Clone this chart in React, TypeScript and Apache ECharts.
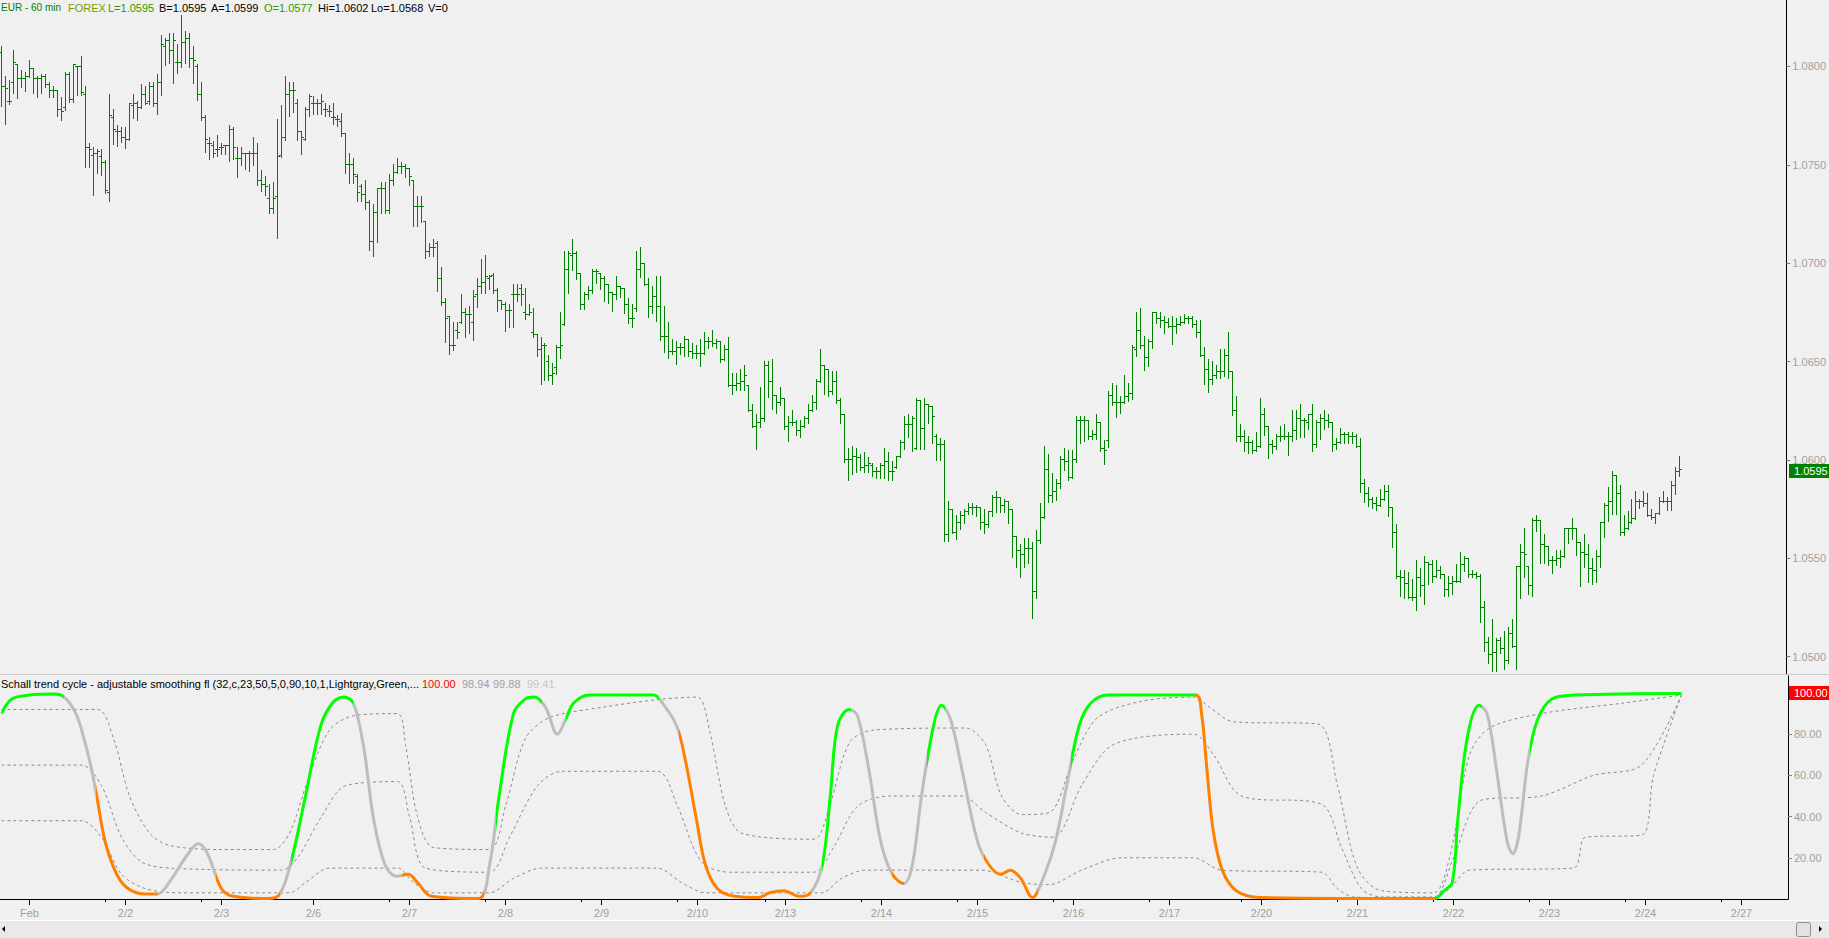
import React, { useEffect, useRef } from "react";
import * as echarts from "echarts";

// EUR 60 min bars, values in pips above 1.0000 (price = 1 + pips / 10000)
const OPEN_PIPS = [
  807,790,782,792,801,794,794,795,799,794, 794,795,791,788,788,778,779,796,783,800,
  800,786,759,755,756,754,751,736,774,767, 767,764,763,780,781,779,786,782,790,781,
  792,810,813,808,802,802,812,814,804,800, 786,774,761,760,758,759,760,760,768,753,
  753,756,756,756,756,742,740,733,728,734, 755,764,786,788,781,767,763,778,781,781,
  781,778,777,774,773,772,766,750,750,744, 739,735,731,711,726,738,738,727,742,746,
  749,749,748,742,729,729,721,706,708,710, 692,680,673,658,666,670,675,674,670,684,
  688,690,692,694,686,681,679,676,684,684, 687,675,674,665,664,656,658,650,643,647,
  657,669,697,704,705,695,679,684,686,696, 695,692,689,685,684,688,687,679,672,677,
  697,700,689,678,683,678,663,663,655,655, 657,657,661,655,654,654,654,660,660,659,
  660,651,656,638,638,639,640,638,625,617, 619,621,648,640,633,629,631,617,619,619,
  615,617,621,625,629,640,648,646,635,640, 630,623,600,600,602,601,596,597,597,594,
  594,597,599,594,596,602,609,618,618,606, 630,616,628,627,612,608,608,562,575,563,
  568,572,574,576,576,576,568,567,574,581, 581,577,579,575,561,554,552,555,555,533,
  559,571,595,582,584,588,600,599,591,600, 620,620,620,612,613,619,606,610,633,629,
  629,629,632,634,656,666,658,652,660,675, 672,671,670,668,668,669,670,672,672,669,
  665,653,646,641,643,645,645,653,645,625, 612,612,609,609,605,607,623,617,608,607,
  612,612,612,612,615,621,620,619,623,608, 619,621,620,619,608,609,613,613,612,612,
  607,588,583,580,578,577,580,584,576,563, 541,540,537,530,530,540,536,548,547,541,
  544,542,534,537,538,538,547,550,542,542, 541,525,507,501,502,508,504,498,512,505,
  546,553,546,536,569,569,557,556,549,549, 550,551,565,565,565,558,553,552,545,544,
  551,568,577,579,592,583,563,565,568,570, 579,579,578,572,571,573,579,579,579,587,
  594,
];
const HIGH_PIPS = [
  810,795,793,808,801,798,797,803,799,795, 796,796,792,790,788,784,797,797,801,800,
  805,790,761,759,758,758,752,786,778,770, 769,769,781,786,782,791,790,792,792,796,
  816,814,817,817,811,826,818,817,810,801, 792,775,764,762,765,761,760,770,769,759,
  759,756,757,764,761,747,744,740,741,773, 780,795,792,792,783,767,779,786,785,783,
  786,781,780,781,775,776,766,756,753,745, 740,742,732,730,738,741,741,745,750,753,
  751,750,748,742,734,734,721,710,712,711, 698,682,673,670,670,684,677,678,686,692,
  702,704,694,695,687,681,680,679,689,689, 689,687,679,677,664,662,659,653,649,658,
  675,706,706,712,706,695,685,688,697,697, 695,693,689,685,693,688,687,682,679,706,
  708,700,692,688,693,693,678,670,661,660, 659,663,661,659,658,661,665,662,666,661,
  660,658,662,644,644,646,648,638,628,623, 637,650,650,651,633,637,631,622,625,620,
  620,622,628,633,641,656,648,646,645,645, 631,623,606,607,606,603,604,601,598,596,
  598,606,604,599,602,610,622,623,622,631, 630,631,628,627,613,611,610,579,575,572,
  574,575,578,578,577,576,575,574,582,584, 581,580,579,575,561,557,560,560,558,564,
  578,607,603,593,590,602,606,605,605,622, 622,622,620,615,623,619,610,635,639,638,
  632,643,639,658,675,677,663,661,675,675, 675,673,672,673,672,673,674,673,673,671,
  671,657,651,650,648,656,656,665,645,632, 618,615,612,610,614,631,626,617,610,613,
  617,618,614,625,625,628,621,623,628,620, 623,625,623,619,611,616,614,614,614,613,
  611,590,586,581,581,585,587,587,576,567, 544,544,543,539,549,545,551,548,549,549,
  546,542,541,541,547,553,551,550,544,543, 542,528,510,519,509,510,513,515,519,546,
  557,565,546,570,572,569,562,556,551,554, 554,565,565,570,565,558,562,557,550,554,
  568,578,586,594,592,587,572,574,580,584, 580,584,583,575,573,581,584,581,589,596,
  602,
];
const LOW_PIPS = [
  780,771,781,787,784,790,788,795,787,785, 787,790,785,785,775,773,778,782,782,786,
  786,749,749,735,746,745,736,732,761,760, 762,759,763,774,773,779,781,781,780,776,
  786,801,802,792,797,800,802,800,792,783, 773,757,753,754,755,756,756,752,753,744,
  750,748,747,750,740,737,735,726,726,713, 754,763,775,777,763,756,763,775,776,776,
  776,775,775,771,770,765,746,741,741,732, 732,728,707,704,711,726,726,726,740,746,
  746,744,740,719,719,721,703,704,704,686, 679,660,654,656,662,670,663,665,661,678,
  685,685,687,685,676,677,666,668,668,681, 679,672,674,663,653,639,641,641,639,644,
  652,669,685,697,692,677,677,682,685,690, 687,681,680,676,682,683,675,670,668,676,
  693,689,673,675,671,661,655,652,654,649, 654,653,653,652,652,648,654,657,658,657,
  650,651,638,634,636,636,636,625,617,606, 617,620,632,626,624,628,616,610,618,613,
  612,617,619,625,626,640,634,633,634,629, 619,599,590,593,594,595,594,594,592,591,
  591,591,590,590,596,602,606,612,605,606, 606,606,619,609,600,600,559,559,563,560,
  565,568,573,573,572,565,563,566,572,574, 574,574,568,551,546,541,546,548,520,530,
  558,571,579,579,580,586,595,590,591,599, 609,610,611,611,611,605,598,607,628,622,
  624,629,630,631,653,657,646,648,657,670, 668,665,668,659,665,669,670,670,668,663,
  653,639,635,639,642,642,643,642,623,610, 610,605,604,604,605,607,613,601,604,606,
  610,611,603,610,611,612,612,616,605,607, 611,616,617,605,606,609,609,609,609,607,
  584,579,577,576,575,577,580,572,556,540, 531,530,530,529,524,531,527,537,538,541,
  540,531,531,532,538,538,544,541,541,540, 518,503,497,493,493,502,494,497,505,494,
  530,541,532,531,564,548,548,547,543,547, 546,551,558,560,552,536,546,538,537,538,
  546,561,569,573,573,562,562,565,568,570, 576,577,572,570,568,573,579,575,575,583,
  592,
];
const CLOSE_PIPS = [
  790,789,782,802,794,794,795,799,794,794, 795,791,788,788,778,777,796,783,801,800,
  787,759,758,756,757,751,737,775,768,767, 764,763,781,781,779,786,781,790,781,792,
  811,813,808,813,802,812,814,804,803,786, 774,763,761,756,758,759,760,768,759,753,
  756,756,756,756,742,740,739,728,733,754, 764,786,788,788,767,764,778,785,781,781,
  782,778,777,774,773,766,750,750,745,736, 735,731,711,726,738,738,727,742,746,749,
  749,748,744,729,729,729,706,708,708,692, 680,672,658,658,665,675,674,674,683,688,
  690,693,693,686,681,679,676,676,684,684, 684,674,675,664,656,658,658,643,644,657,
  658,697,705,705,695,679,684,686,696,696, 692,689,685,684,688,687,679,672,672,697,
  700,689,678,683,678,663,663,655,655,657, 657,661,655,654,654,654,660,660,659,660,
  651,656,638,638,639,640,643,625,617,619, 621,648,640,633,629,631,617,619,619,615,
  617,621,625,629,640,648,646,635,640,630, 623,600,600,602,601,596,597,598,594,594,
  597,599,594,594,602,609,618,618,621,630, 616,628,627,622,608,608,562,575,563,568,
  572,574,576,576,576,568,567,574,581,581, 577,579,575,561,554,552,555,555,533,559,
  571,595,582,584,588,600,599,591,600,620, 620,620,612,613,619,606,605,633,629,629,
  629,632,634,657,666,658,652,660,675,672, 671,670,668,668,669,670,672,672,669,665,
  653,646,641,643,645,645,653,645,625,612, 612,609,609,605,607,623,617,608,607,612,
  612,612,612,615,621,620,620,623,608,619, 621,620,619,608,609,613,613,612,612,607,
  588,583,580,578,577,580,584,576,563,541, 540,537,530,530,540,536,548,547,541,544,
  542,534,537,538,538,547,550,542,542,541, 525,507,501,502,508,504,498,512,505,546,
  553,552,536,569,569,557,556,549,549,550, 551,565,565,565,558,553,552,545,544,551,
  568,577,579,592,583,563,565,568,570,579, 579,578,572,571,573,579,579,579,587,594,
  595,
];

// x axis: bar index of each day label and of each session-start tick
const DAY_BARS = [7, 31, 55, 78, 102, 126, 150, 174, 196, 220, 244, 268, 292, 315, 339, 363, 387, 411, 435];
const DAY_LABELS = ["Feb", "2/2", "2/3", "2/6", "2/7", "2/8", "2/9", "2/10", "2/13", "2/14", "2/15", "2/16", "2/17", "2/20", "2/21", "2/22", "2/23", "2/24", "2/27"];
const SESSION_BARS = [26, 50, 97, 121, 145, 169, 191, 215, 239, 263, 287, 310, 334, 358, 382, 406, 430];
const PRICE_TICKS = [1.05, 1.055, 1.06, 1.065, 1.07, 1.075, 1.08];
const STC_TICKS = [20, 40, 60, 80];

// Schaff trend cycle: [bar, value]
const STC_POINTS = [
  [0, 90], [2.5, 97], [7, 99], [13, 99.5], [15.7, 98], [18.6, 90], [20.6, 78], [22.4, 64], [23.8, 50],
  [25.9, 28], [28.8, 12], [31.7, 5], [36, 2.4], [39, 2.4], [41.9, 8], [46.3, 21], [49.2, 27], [51.5, 22],
  [55, 5], [58, 1.3], [66.7, 0.2], [69.6, 2.4], [72.5, 19], [76, 50], [79.8, 84], [82.7, 95], [85.6, 98],
  [88, 95], [90.6, 73], [93, 39], [95.9, 16.5], [98.8, 11], [101.7, 12], [104, 8], [107.5, 1.3], [119.2, 0.2],
  [122, 16.5], [124.4, 50], [128, 90], [130.9, 97], [133.2, 98], [136, 93], [139, 80], [141, 87], [143, 95],
  [146.9, 99], [163, 99], [165.3, 95], [168.8, 84], [171, 67], [173.7, 39], [176, 16.5], [179, 5], [183.3, 1.3],
  [189.2, 0.7], [192, 3], [195.6, 4], [199.4, 1.3], [202.3, 3], [205.2, 16.5], [207.2, 50], [209, 84],
  [211.9, 92], [214, 89], [216.9, 62], [219.8, 28], [222.7, 12], [225.6, 7.5], [227.7, 16.5], [230, 50],
  [233, 84], [235, 94], [237.3, 87], [240.2, 62], [244, 28], [246.9, 16.5], [249.8, 12], [252.2, 14],
  [254.8, 10], [257.7, 0.7], [260.6, 11], [263.5, 28], [266.4, 56], [269.4, 84], [272.3, 95], [276.6, 99],
  [298.5, 99], [300, 90], [301.4, 62], [302.9, 33.5], [305.2, 14], [308.7, 4], [314.6, 0.7], [358.3, 0.2],
  [360.6, 4], [362.7, 8], [364.1, 39], [366.5, 79], [369.4, 94], [371.4, 90], [373.8, 62], [376.4, 28],
  [377.8, 22], [379.3, 30.6], [381.6, 67], [384, 87], [387.5, 97], [393.3, 99], [420, 99.8],
];
// colour of the STC line over bar ranges: g = rising, s = neutral, o = falling
const STC_SEGMENTS = [
  [0, 15.7, "g"], [15.7, 23.5, "s"], [23.5, 39, "o"], [39, 53.6, "s"], [53.6, 69.6, "o"], [69.6, 72.5, "s"],
  [72.5, 88, "g"], [88, 100.2, "s"], [100.2, 120.6, "o"], [120.6, 123.5, "s"], [123.5, 135.2, "g"],
  [135.2, 141, "s"], [141, 164.4, "g"], [164.4, 169.3, "s"], [169.3, 202.3, "o"], [202.3, 205.2, "s"],
  [205.2, 212.5, "g"], [212.5, 222.7, "s"], [222.7, 225.6, "o"], [225.6, 231.5, "s"], [231.5, 235.8, "g"],
  [235.8, 245.5, "s"], [245.5, 259.2, "o"], [259.2, 267.3, "s"], [267.3, 298.5, "g"], [298.5, 358.3, "o"],
  [358.3, 370, "g"], [370, 382.2, "s"], [382.2, 422, "g"],
];
// dashed companion lines: [bar, value]
const SIGNAL_A = [
  [0, 92], [24, 92], [28, 78], [32, 50], [37, 32], [42, 26], [55, 24], [68, 24], [72, 32], [77, 60], [82, 82],
  [88, 89], [99, 90], [101, 75], [104, 40], [108, 25], [122, 24], [126, 45], [131, 78], [137, 88], [150, 93],
  [165, 97], [174, 98], [177, 82], [181, 45], [185, 32], [203, 29], [207, 45], [212, 76], [218, 82], [241, 83],
  [246, 75], [250, 50], [255, 41], [262, 42], [268, 68], [274, 88], [285, 96], [298, 98], [302, 93], [308, 86],
  [329, 85], [334, 55], [339, 15], [345, 4], [358, 3], [362, 20], [367, 70], [372, 83], [385, 90], [405, 95],
  [420, 99],
];
const SIGNAL_B = [
  [0, 65], [20, 65], [25, 55], [30, 30], [35, 18], [42, 15], [70, 14], [74, 20], [80, 40], [86, 55], [99, 57],
  [102, 40], [106, 15], [122, 13], [127, 30], [134, 55], [140, 62], [164, 62], [169, 45], [175, 18], [182, 13],
  [203, 13], [208, 25], [214, 45], [222, 50], [240, 50], [246, 42], [255, 32], [263, 30], [270, 55], [278, 75],
  [298, 80], [303, 70], [310, 50], [330, 46], [335, 25], [340, 5], [345, 1], [358, 1], [363, 20], [370, 48],
  [385, 50], [398, 60], [410, 65], [420, 99],
];
const SIGNAL_C = [
  [0, 38], [20, 38], [25, 30], [30, 12], [36, 5], [45, 3], [72, 3], [76, 8], [82, 15], [99, 15], [103, 8],
  [108, 3], [122, 3], [128, 10], [135, 15], [164, 15], [170, 8], [176, 3], [205, 3], [210, 10], [216, 14],
  [245, 14], [255, 8], [262, 7], [270, 14], [280, 20], [298, 20], [305, 14], [330, 13], [334, 5], [338, 1],
  [358, 0.5], [362, 5], [367, 14], [393, 15], [396, 30], [410, 31], [413, 60], [420, 99],
];

const FONT = '"Liberation Sans", Arial, sans-serif';
const X_MIN = -0.375;
const X_MAX = 446.625;
const SEG_COLORS: Record<string, string> = { g: "#00ff00", s: "#bdbdbd", o: "#ff8000" };

export default function App() {
  const ref = useRef<HTMLDivElement>(null);
  useEffect(() => {
    document.body.style.margin = "0";
    const chart = echarts.init(ref.current!, null, { renderer: "svg" });
    const ohlc = OPEN_PIPS.map((o, i) => [
      i,
      1 + o / 10000,
      1 + HIGH_PIPS[i] / 10000,
      1 + LOW_PIPS[i] / 10000,
      1 + CLOSE_PIPS[i] / 10000,
    ]);
    const txt = (text: string, x: number, y: number, fill: string, size = 11, z = 50) => ({
      type: "text",
      x,
      y,
      z,
      style: { text, fill, fontSize: size, fontFamily: FONT, verticalAlign: "middle" },
    });
    const option: any = {
      animation: false,
      backgroundColor: "#f0f0f0",
      textStyle: { fontFamily: FONT },
      grid: [
        { left: 0, right: 41, top: 0, height: 674.7 },
        { left: 0, right: 41, top: 676, height: 223 },
      ],
      xAxis: [
        { gridIndex: 0, type: "value", min: X_MIN, max: X_MAX, show: false },
        {
          gridIndex: 1,
          type: "value",
          min: X_MIN,
          max: X_MAX,
          position: "bottom",
          axisLine: { show: true, onZero: false, lineStyle: { color: "#000000", width: 1 } },
          axisTick: { show: true, customValues: DAY_BARS, length: 6, lineStyle: { color: "#000000" } },
          axisLabel: {
            show: true,
            customValues: DAY_BARS,
            formatter: (v: number) => DAY_LABELS[DAY_BARS.indexOf(Math.round(v))] ?? "",
            color: "#a0a0a0",
            fontSize: 11,
            margin: 8,
          },
          splitLine: { show: false },
        },
        {
          gridIndex: 1,
          type: "value",
          min: X_MIN,
          max: X_MAX,
          position: "bottom",
          axisLine: { show: false, onZero: false },
          axisTick: { show: true, customValues: SESSION_BARS, length: 3, lineStyle: { color: "#000000" } },
          axisLabel: { show: false },
          splitLine: { show: false },
        },
      ],
      yAxis: [
        {
          gridIndex: 0,
          type: "value",
          position: "right",
          min: 1.049084,
          max: 1.08338,
          axisLine: { show: true, onZero: false, lineStyle: { color: "#000000" } },
          axisTick: { show: true, customValues: PRICE_TICKS, length: 4, lineStyle: { color: "#808080" } },
          axisLabel: {
            customValues: PRICE_TICKS,
            formatter: (v: number) => v.toFixed(4),
            color: "#a0a0a0",
            fontSize: 11,
            margin: 6,
          },
          splitLine: { show: false },
        },
        {
          gridIndex: 1,
          type: "value",
          position: "right",
          min: 0,
          max: 108.25,
          axisLine: { show: true, onZero: false, lineStyle: { color: "#000000" } },
          axisTick: { show: true, customValues: STC_TICKS, length: 4, lineStyle: { color: "#808080" } },
          axisLabel: {
            customValues: STC_TICKS,
            formatter: (v: number) => v.toFixed(2),
            color: "#a0a0a0",
            fontSize: 11,
            margin: 6,
          },
          splitLine: { show: false },
        },
      ],
      visualMap: [
        {
          show: false,
          type: "piecewise",
          seriesIndex: 4,
          dimension: 0,
          pieces: STC_SEGMENTS.map(([a, b, c]) => ({ gte: a as number, lt: b as number, color: SEG_COLORS[c as string] })),
          outOfRange: { color: "#bdbdbd" },
        },
      ],
      series: [
        {
          type: "custom",
          name: "EUR",
          xAxisIndex: 0,
          yAxisIndex: 0,
          data: ohlc,
          encode: { x: 0, y: [1, 2, 3, 4] },
          clip: true,
          renderItem: (params: any, api: any) => {
            const i = api.value(0);
            const pH = api.coord([i, api.value(2)]);
            const pL = api.coord([i, api.value(3)]);
            const pO = api.coord([i, api.value(1)]);
            const pC = api.coord([i, api.value(4)]);
            const x = Math.floor(pH[0]) + 0.5;
            const oy = Math.floor(pO[1]) + 0.5;
            const cy = Math.floor(pC[1]) + 0.5;
            const st = { stroke: "#008000", lineWidth: 1 };
            return {
              type: "group",
              children: [
                { type: "line", shape: { x1: x, y1: Math.floor(pH[1]), x2: x, y2: Math.ceil(pL[1]) + 1 }, style: st },
                { type: "line", shape: { x1: x - 2.5, y1: oy, x2: x + 0.5, y2: oy }, style: st },
                { type: "line", shape: { x1: x - 0.5, y1: cy, x2: x + 2.5, y2: cy }, style: st },
              ],
            };
          },
        },
        ...[SIGNAL_A, SIGNAL_B, SIGNAL_C].map((d, k) => ({
          type: "line",
          name: "signal" + k,
          xAxisIndex: 1,
          yAxisIndex: 1,
          data: d,
          showSymbol: false,
          smooth: 0.3,
          z: 2,
          lineStyle: { color: "#8a8a8a", width: 1, type: [3, 3] },
        })),
        {
          type: "line",
          name: "STC",
          xAxisIndex: 1,
          yAxisIndex: 1,
          data: STC_POINTS,
          showSymbol: false,
          smooth: 0.35,
          z: 3,
          lineStyle: { width: 3 },
        },
      ],
      graphic: {
        elements: [
          { type: "line", shape: { x1: 0, y1: 674.5, x2: 1829, y2: 674.5 }, style: { stroke: "#c8c8c8", lineWidth: 1 }, z: 40 },
          txt("EUR - 60 min", 1, 7.5, "#008000", 10),
          txt("FOREX", 68, 7.5, "#7c9a00"),
          txt("L=1.0595", 108, 7.5, "#2e9a00"),
          txt("B=1.0595", 159, 7.5, "#000000"),
          txt("A=1.0599", 211, 7.5, "#000000"),
          txt("O=1.0577", 264, 7.5, "#2e9a00"),
          txt("Hi=1.0602", 318, 7.5, "#000000"),
          txt("Lo=1.0568", 371, 7.5, "#000000"),
          txt("V=0", 428, 7.5, "#000000"),
          txt("Schall trend cycle - adjustable smoothing fl (32,c,23,50,5,0,90,10,1,Lightgray,Green,...", 1, 683.5, "#000000"),
          txt("100.00", 422, 683.5, "#ff0000"),
          txt("98.94", 462, 683.5, "#a0a0a0"),
          txt("99.88", 493, 683.5, "#a0a0a0"),
          txt("99.41", 527, 683.5, "#c8c8c8"),
          { type: "rect", shape: { x: 1789, y: 464, width: 40, height: 14 }, style: { fill: "#008000" }, z: 60 },
          txt("1.0595", 1794, 471, "#ffffff", 11, 61),
          { type: "rect", shape: { x: 1789, y: 686, width: 40, height: 14 }, style: { fill: "#ff0000" }, z: 60 },
          txt("100.00", 1794, 693, "#ffffff", 11, 61),
          { type: "rect", shape: { x: 0, y: 920, width: 1829, height: 18 }, style: { fill: "#e9e9e9" }, z: 40 },
          { type: "line", shape: { x1: 0, y1: 920.5, x2: 1829, y2: 920.5 }, style: { stroke: "#ffffff", lineWidth: 1 }, z: 41 },
          { type: "polygon", shape: { points: [[5, 926], [5, 932], [2, 929]] }, style: { fill: "#000000" }, z: 41 },
          { type: "rect", shape: { x: 1796.5, y: 922.5, width: 14, height: 14, r: 2 }, style: { fill: "#e2e2e2", stroke: "#8c8c8c", lineWidth: 1 }, z: 41 },
          { type: "polygon", shape: { points: [[1819, 926], [1819, 932], [1822, 929]] }, style: { fill: "#000000" }, z: 41 },
        ],
      },
    };
    chart.setOption(option);
    return () => chart.dispose();
  }, []);
  return <div ref={ref} style={{ width: 1829, height: 938 }} />;
}
